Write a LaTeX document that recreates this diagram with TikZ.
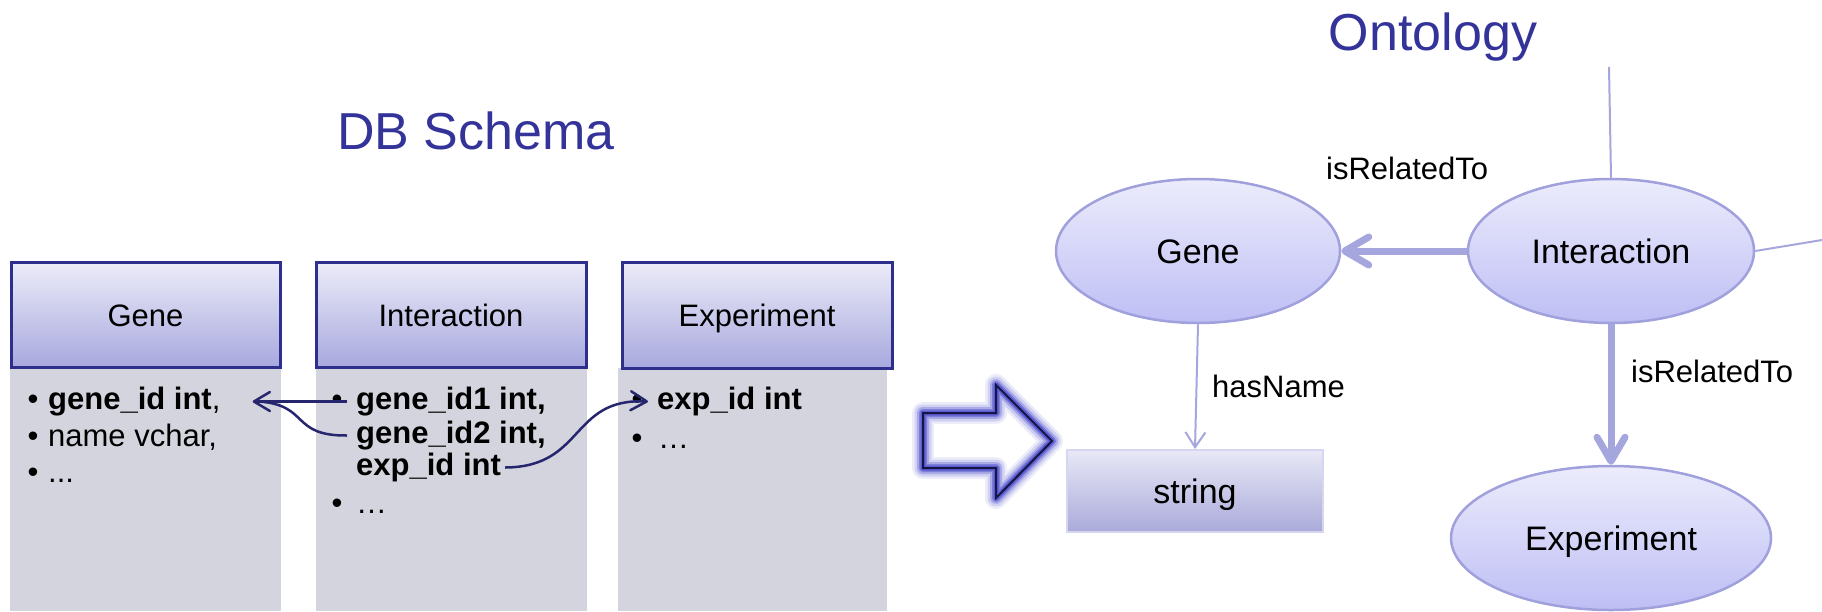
\documentclass[tikz,border=0pt]{standalone}
\usepackage{fontspec}
\setmainfont{Liberation Sans}
\usetikzlibrary{arrows.meta,shapes.geometric}
\definecolor{titleblue}{RGB}{51,51,153}
\definecolor{hdrborder}{RGB}{46,46,140}
\definecolor{hdrtop}{RGB}{236,236,249}
\definecolor{hdrbot}{RGB}{168,168,222}
\definecolor{bodygray}{RGB}{212,212,222}
\definecolor{connnavy}{RGB}{38,38,110}
\definecolor{elltop}{RGB}{236,236,252}
\definecolor{ellbot}{RGB}{190,190,245}
\definecolor{ellborder}{RGB}{160,160,220}
\definecolor{lav}{RGB}{166,166,222}
\definecolor{strtop}{RGB}{232,232,247}
\definecolor{strbot}{RGB}{170,170,218}
\definecolor{strborder}{RGB}{214,214,240}
\definecolor{glowblue}{RGB}{80,80,205}
\definecolor{outlinenavy}{RGB}{22,22,70}
\newcommand{\fsbody}{\fontsize{31}{37}\selectfont}
\begin{document}
\begin{tikzpicture}[x=1pt,y=-1pt,
  title/.style={text=titleblue,font=\fontsize{52}{60}\selectfont,inner sep=0,anchor=base},
  hdr/.style={draw=hdrborder,line width=3pt,top color=hdrtop,bottom color=hdrbot,font=\fsbody,inner sep=0,text height=23pt,text depth=0pt},
  tbody/.style={fill=bodygray,draw=none,inner sep=0},
  btext/.style={font=\fsbody,anchor=base west,inner sep=0,text height=22pt,text depth=7pt},
  bul/.style={font=\fsbody,anchor=base,inner sep=0},
  conn/.style={draw=connnavy,line width=2.5pt},
  connarrow/.style={conn,-{Straight Barb[length=16pt,width=19pt,round]}},
  onode/.style={ellipse,draw=ellborder,line width=2.5pt,top color=elltop,bottom color=ellbot,font=\fontsize{34}{40}\selectfont,inner sep=0,text height=25pt,text depth=0pt},
  sbox/.style={draw=strborder,line width=2pt,top color=strtop,bottom color=strbot,font=\fontsize{34}{40}\selectfont,inner sep=0,text height=25pt,text depth=0pt},
  thickarrow/.style={draw=lav,line width=7pt,-{Straight Barb[length=24pt,width=28pt,round]}},
  thinline/.style={draw=lav,line width=2pt},
  lbl/.style={font=\fsbody,anchor=base west,inner sep=0},
]
\useasboundingbox (0,0) rectangle (1822,611);

% titles
\node[title] (tDB) at (476,149) {DB Schema};
\node[title] (tOnt) at (1433,50) {Ontology};

% table bodies
\node[tbody,minimum width=271pt,minimum height=244pt] (gBody) at (145.5,489) {};
\node[tbody,minimum width=271pt,minimum height=244pt] (iBody) at (451.5,489) {};
\node[tbody,minimum width=269pt,minimum height=243pt] (eBody) at (752.5,489.5) {};

% table headers
\node[hdr,minimum width=269pt,minimum height=105pt] (gHead) at (145.5,314.5) {Gene};
\node[hdr,minimum width=270pt,minimum height=105pt] (iHead) at (451,314.5) {Interaction};
\node[hdr,minimum width=270pt,minimum height=106pt] (eHead) at (757,315) {Experiment};

% Gene body text
\node[bul] (gb1) at (33,409) {\textbullet};
\node[btext] (g1) at (48,409) {{\bfseries gene\_id int},};
\node[bul] (gb2) at (33,446) {\textbullet};
\node[btext] (g2) at (48,446) {name vchar,};
\node[bul] (gb3) at (33,482) {\textbullet};
\node[btext] (g3) at (48,482) {...};

% Interaction body text
\node[bul] (ib1) at (337,409) {\textbullet};
\node[btext] (i1) at (356,409) {\bfseries gene\_id1 int,};
\node[btext] (i2) at (356,443) {\bfseries gene\_id2 int,};
\node[btext] (i3) at (356,475) {\bfseries exp\_id int};
\node[bul] (ib4) at (337,513) {\textbullet};
\node[btext] (i4) at (356,513) {…};

% Experiment body text
\node[bul] (eb1) at (637,409) {\textbullet};
\node[btext] (e1) at (657,409) {\bfseries exp\_id int};
\node[bul] (eb2) at (637,448) {\textbullet};
\node[btext] (e2) at (658,448) {…};

% schema connectors
\draw[connarrow] ([xshift=-9pt]i1.west) -- ([xshift=32pt]g1.east);
\draw[conn] ([xshift=-9pt]i2.west) .. controls (290,436) and (310,405) .. ([xshift=38pt]g1.east);
\draw[connarrow] ([xshift=4pt]i3.east) .. controls (585,467) and (570,398) .. ([xshift=-9pt]e1.west);

% big hollow arrow
\foreach \w/\o in {22/0.10,17/0.18,12/0.30,8/0.50,5/0.75}{
  \draw[glowblue,line width=\w pt,opacity=\o,line join=round]
    (923,413) -- (996,413) -- (996,385) -- (1052,441) -- (996,498) -- (996,468) -- (923,468) -- cycle;
}
\draw[outlinenavy,line width=2pt,line join=miter]
    (923,413) -- (996,413) -- (996,385) -- (1052,441) -- (996,498) -- (996,468) -- (923,468) -- cycle;

% ontology
\coordinate (oTop) at (1609,67);
\coordinate (oRight) at (1822,240);
\node[onode,minimum width=284pt,minimum height=144pt] (oGene) at (1198,251) {Gene};
\node[onode,minimum width=286pt,minimum height=144pt] (oInt) at (1611,251) {Interaction};
\node[onode,minimum width=320pt,minimum height=144pt] (oExp) at (1611,538) {Experiment};
\node[sbox,minimum width=256pt,minimum height=82pt] (oStr) at (1195,491) {string};

\draw[thinline] (oInt.north) -- (oTop);
\draw[thinline] (oInt.east) -- (oRight);
\draw[thickarrow] (oInt.west) -- (oGene.east);
\draw[thickarrow] (oInt.south) -- (oExp.north);
\draw[thinline,-{Straight Barb[length=15pt,width=20pt]}] (oGene.south) -- (oStr.north);

\node[lbl] (lRel1) at (1326,179) {isRelatedTo};
\node[lbl] (lRel2) at (1631,382) {isRelatedTo};
\node[lbl] (lName) at (1212,397) {hasName};
\end{tikzpicture}
\end{document}
